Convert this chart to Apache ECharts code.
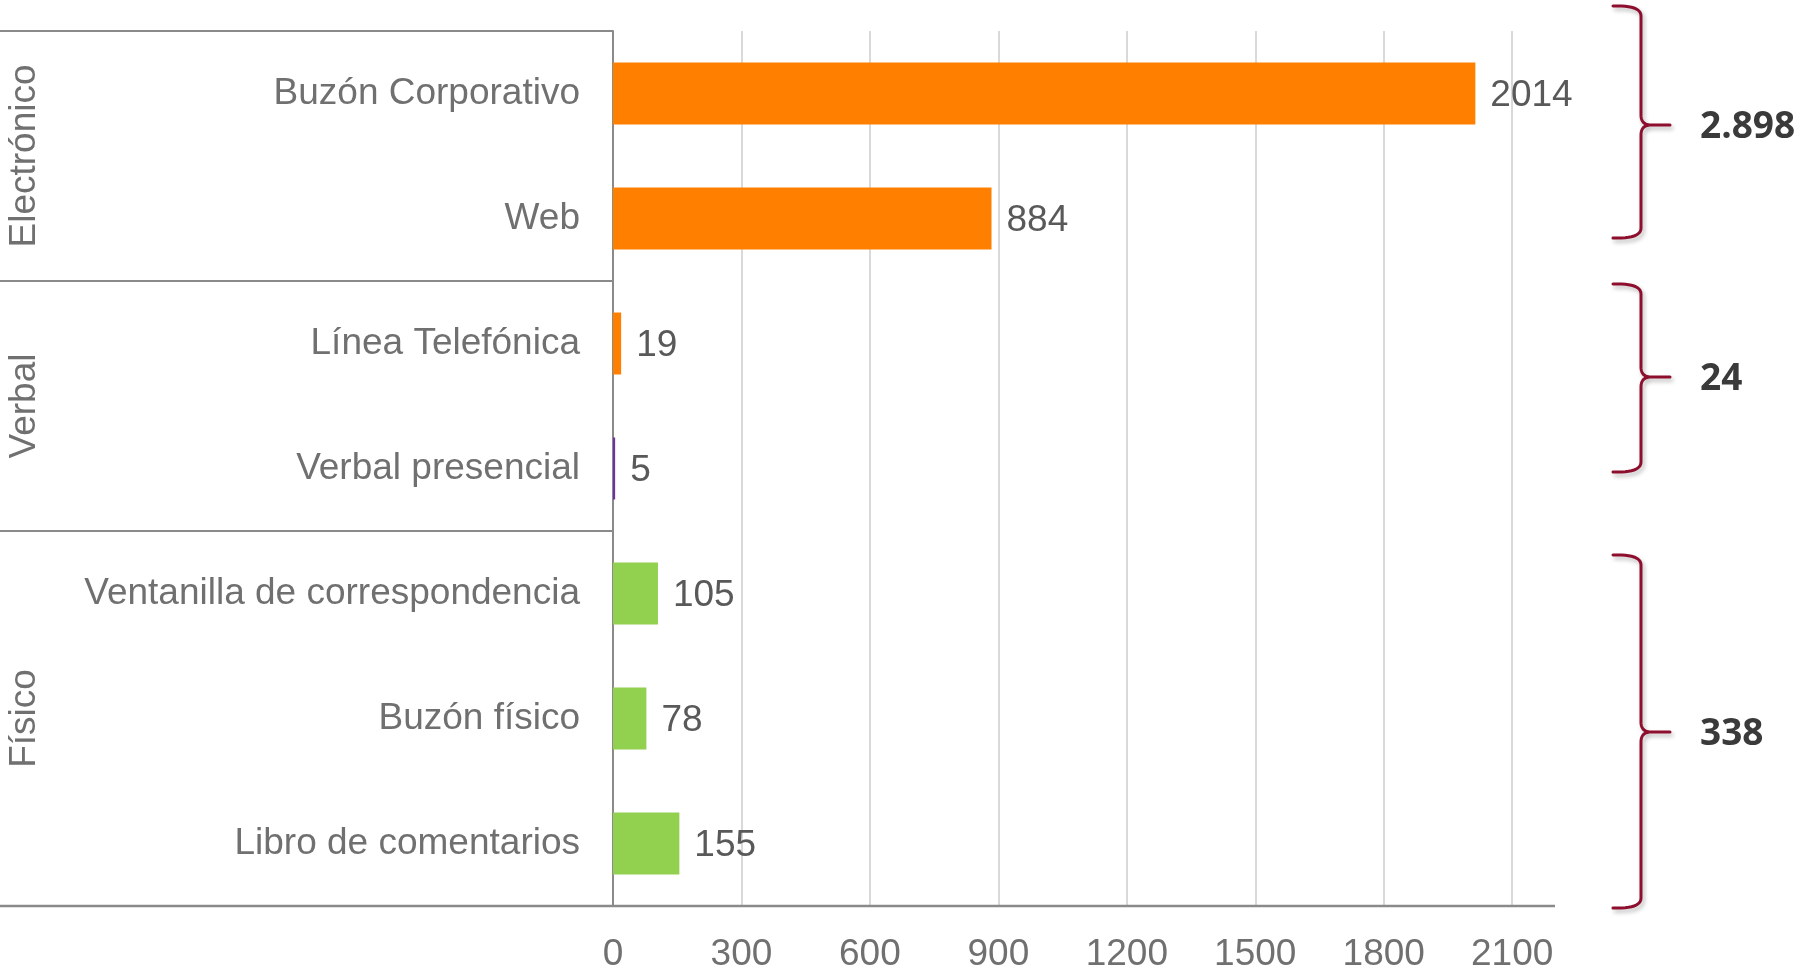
<!DOCTYPE html>
<html>
<head>
<meta charset="utf-8">
<style>
  html, body { margin: 0; padding: 0; background: #ffffff; }
  #chart { width: 1805px; height: 973px; }
</style>
<script src="https://cdn.jsdelivr.net/npm/echarts@6/dist/echarts.min.js"></script>
</head>
<body>
<div id="chart"></div>
<script>
// Channels of incoming requests, grouped by type
const categories = [
  'Buzón Corporativo',
  'Web',
  'Línea Telefónica',
  'Verbal presencial',
  'Ventanilla de correspondencia',
  'Buzón físico',
  'Libro de comentarios'
];
const values = [2014, 884, 19, 5, 105, 78, 155];
const groupNames = ['Electrónico', 'Verbal', 'Físico'];
const groupSizes = [2, 2, 3];
const xTicks = [0, 300, 600, 900, 1200, 1500, 1800, 2100];

// Styling
const barColors = ['#FF8000', '#FF8000', '#FF8000', '#7030A0', '#92D050', '#92D050', '#92D050'];
const FONT = '"Liberation Sans", Arial, sans-serif';
const LINE_GRAY = '#8a8a8a';
const BRACE_RED = '#8E0E2E';

const chart = echarts.init(document.getElementById('chart'), null, { renderer: 'canvas' });

const GRID = { left: 613, top: 31, right: 250, bottom: 67 };

chart.setOption({
  animation: false,
  backgroundColor: '#ffffff',
  grid: GRID,
  xAxis: {
    type: 'value',
    min: 0,
    max: 2200,
    interval: 300,
    axisLine: { show: false },
    axisTick: { show: false },
    axisLabel: {
      showMaxLabel: false,
      fontFamily: FONT,
      fontSize: 37,
      color: '#707070',
      margin: 30,
      formatter: v => (xTicks.indexOf(v) >= 0 ? String(v) : '')
    },
    splitLine: { show: true, showMaxLine: false, showMinLine: false, lineStyle: { color: '#d9d9d9', width: 2 } }
  },
  yAxis: {
    type: 'category',
    inverse: true,
    data: categories,
    axisLine: { show: true, lineStyle: { color: LINE_GRAY, width: 2 } },
    axisTick: { show: false },
    axisLabel: { fontFamily: FONT, fontSize: 37, color: '#707070', margin: 33 }
  },
  series: [{
    type: 'bar',
    barWidth: 62,
    data: values.map((v, i) => ({ value: v, itemStyle: { color: barColors[i] } })),
    label: {
      show: true,
      position: 'right',
      distance: 15,
      offset: [0, 2],
      fontFamily: FONT,
      fontSize: 37,
      color: '#595959'
    }
  }]
});

// Sample a quadratic curve into points
function quad(p0, c, p1, steps) {
  const pts = [];
  for (let i = 0; i <= steps; i++) {
    const t = i / steps, u = 1 - t;
    pts.push([
      u * u * p0[0] + 2 * u * t * c[0] + t * t * p1[0],
      u * u * p0[1] + 2 * u * t * c[1] + t * t * p1[1]
    ]);
  }
  return pts;
}

// Curly brace outline from top end to bottom end, with a point at the middle
function bracePoints(xEnd, xStem, xTip, y0, ym, y1) {
  const r = 10;
  let pts = [];
  pts = pts.concat(quad([xEnd, y0], [xStem, y0 - 1], [xStem, y0 + r], 12));
  pts = pts.concat(quad([xStem, ym - r], [xStem, ym], [xStem + 10, ym], 10));
  pts.push([xTip, ym]);
  pts.push([xStem + 10, ym]);
  pts = pts.concat(quad([xStem + 10, ym], [xStem, ym], [xStem, ym + r], 10));
  pts = pts.concat(quad([xStem, y1 - r], [xStem, y1 + 1], [xEnd, y1], 12));
  return pts;
}

// Group dividers, group titles, braces and totals
function buildDecorations() {
  const centers = categories.map(c => chart.convertToPixel({ yAxisIndex: 0 }, c));
  const band = centers[1] - centers[0];
  const axisX = chart.convertToPixel({ xAxisIndex: 0 }, 0);
  const axisRight = chart.convertToPixel({ xAxisIndex: 0 }, 2200);
  const elements = [];

  let start = 0;
  const bounds = [];
  groupSizes.forEach(n => {
    const top = centers[start] - band / 2;
    const bottom = centers[start + n - 1] + band / 2;
    bounds.push([top, bottom]);
    start += n;
  });

  // horizontal separators in the label column
  bounds.forEach(([top]) => {
    elements.push({
      type: 'line',
      shape: { x1: 0, y1: top, x2: axisX, y2: top },
      style: { stroke: LINE_GRAY, lineWidth: 2 }
    });
  });
  const bottomY = bounds[bounds.length - 1][1];
  elements.push({
    type: 'line',
    shape: { x1: 0, y1: bottomY, x2: axisRight, y2: bottomY },
    style: { stroke: LINE_GRAY, lineWidth: 2.5 }
  });

  // rotated group titles
  bounds.forEach(([top, bottom], i) => {
    elements.push({
      type: 'text',
      x: 25,
      y: (top + bottom) / 2,
      rotation: Math.PI / 2,
      style: {
        text: groupNames[i],
        fontFamily: FONT,
        fontSize: 37,
        fill: '#707070',
        align: 'center',
        verticalAlign: 'middle'
      }
    });
  });

  // braces with group totals
  const braceSpans = [[6, 125, 238], [284, 377, 472], [555, 732, 908]];
  const xEnd = 1613, xStem = 1641, xTip = 1670;
  let idx = 0;
  groupSizes.forEach((n, g) => {
    const total = values.slice(idx, idx + n).reduce((a, b) => a + b, 0);
    idx += n;
    const [y0, ym, y1] = braceSpans[g];
    elements.push({
      type: 'polyline',
      shape: { points: bracePoints(xEnd, xStem, xTip, y0, ym, y1) },
      style: {
        fill: null,
        stroke: BRACE_RED,
        lineWidth: 3,
        lineJoin: 'round',
        lineCap: 'round',
        shadowBlur: 4,
        shadowColor: 'rgba(0,0,0,0.28)',
        shadowOffsetX: 2,
        shadowOffsetY: 3
      }
    });
    const txt = String(total).replace(/\B(?=(\d{3})+(?!\d))/g, '.');
    elements.push({
      type: 'text',
      x: 1700,
      y: ym + 2,
      style: {
        text: txt,
        fontFamily: '"Open Sans", "Noto Sans", sans-serif',
        fontWeight: 'bold',
        fontSize: 37,
        fill: '#3a3a3a',
        align: 'left',
        verticalAlign: 'middle'
      }
    });
  });

  chart.setOption({ graphic: { elements } });
}

buildDecorations();
</script>
</body>
</html>
